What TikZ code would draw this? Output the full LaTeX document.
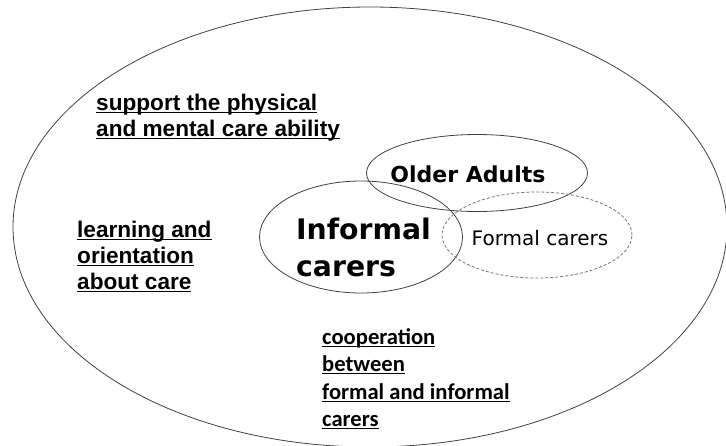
\documentclass[tikz,border=0pt]{standalone}
\usepackage{fontspec}
\setmainfont{Liberation Sans}
\newfontfamily\arialf{Liberation Sans}
\newfontfamily\calibf{Carlito}
\newfontfamily\tahf{DejaVu Sans}
\usetikzlibrary{shapes.geometric}
\newsavebox\ulbox
\newcommand\ulx[2][3.2pt]{\sbox\ulbox{#2}\rlap{\rule[-#1]{\wd\ulbox}{1.5pt}}\usebox\ulbox}
\tikzset{
  ring/.style={ellipse, draw=black!75, line width=0.8pt, inner sep=0pt},
  ringdash/.style={ellipse, draw=black!55, line width=0.8pt, dash pattern=on 3pt off 2pt, inner sep=0pt},
  arialtxt/.style={anchor=base west, inner sep=0pt, font={\arialf\bfseries\fontsize{22.6}{26}\selectfont}},
  calitxt/.style={anchor=base west, inner sep=0pt, font={\calibf\bfseries\fontsize{22.6}{27}\selectfont}},
  tahb/.style={inner sep=0pt, font={\tahf\bfseries\fontsize{#1}{#1}\selectfont}},
  tahr/.style={inner sep=0pt, font={\tahf\fontsize{#1}{#1}\selectfont}},
}
\begin{document}
\begin{tikzpicture}[x=1pt,y=-1pt]
\useasboundingbox (0,0) rectangle (726,445);
\clip (0,0) rectangle (726,445);
\node[ring, minimum width=714pt, minimum height=440pt] (outer) at (370,227) {};
\node[ring, minimum width=221pt, minimum height=77pt] (older) at (477,173) {};
\node[ring, minimum width=203pt, minimum height=112pt] (informal) at (361,237) {};
\node[ringdash, minimum width=190pt, minimum height=86pt] (formal) at (537,235) {};
\node[tahb=22, anchor=base] (tolder) at (468,182) {Older Adults};
\node[tahb=28.3, anchor=base west] (tinf1) at (296,239) {Informal};
\node[tahb=28.3, anchor=base west] (tinf2) at (296,276) {carers};
\node[tahr=20, anchor=base] (tformal) at (540,245) {Formal carers};
\node[arialtxt] (s1) at (96,110) {\ulx{support the physical}};
\node[arialtxt] (s2) at (96,136) {\ulx{and mental care ability}};
\node[arialtxt] (l1) at (77,237) {\ulx{learning and}};
\node[arialtxt] (l2) at (77,263) {\ulx{orientation}};
\node[arialtxt] (l3) at (77,289) {\ulx{about care}};
\node[calitxt] (c1) at (322,344) {\ulx{cooperation}};
\node[calitxt] (c2) at (322,371) {\ulx{between}};
\node[calitxt] (c3) at (322,399) {\ulx{formal and informal}};
\node[calitxt] (c4) at (322,426) {\ulx{carers}};
\end{tikzpicture}
\end{document}
